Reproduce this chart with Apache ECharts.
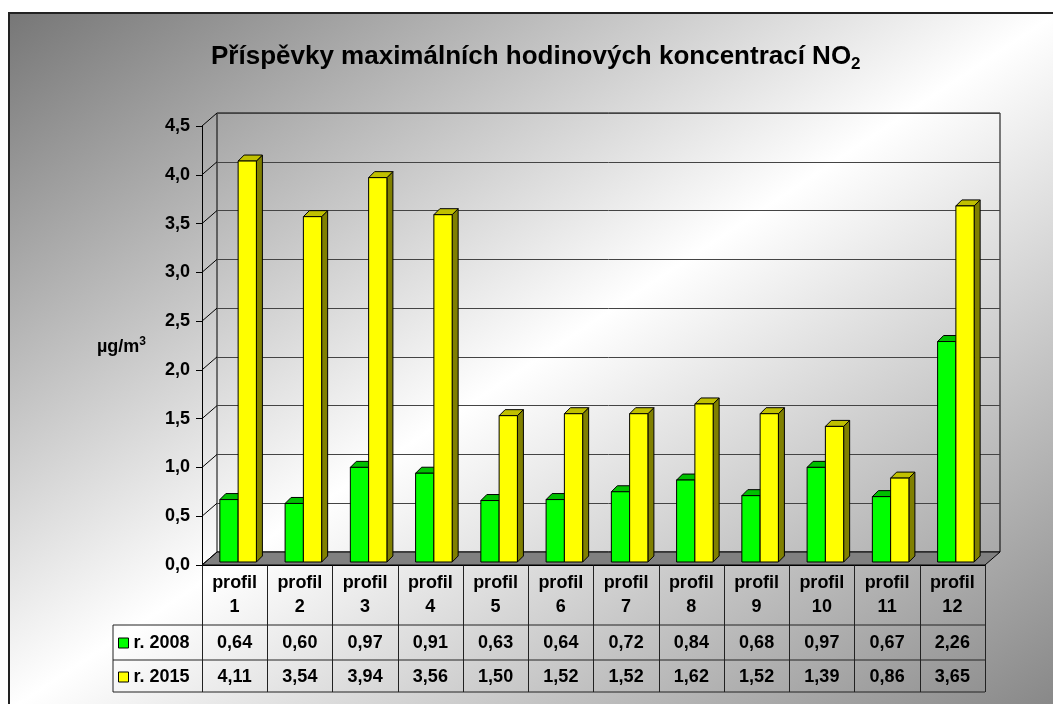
<!DOCTYPE html>
<html>
<head>
<meta charset="utf-8">
<script src="https://cdn.jsdelivr.net/npm/echarts@6/dist/echarts.min.js"></script>
<style>
  html, body { margin: 0; padding: 0; overflow: hidden; background: #fff; }
  #bg {
    position: absolute; left: 8px; top: 12px; width: 1050px; height: 700px;
    box-sizing: border-box; border: 2px solid #222;
    background: linear-gradient(to bottom right, #777 0%, #fff 50%, #878787 100%);
  }
  #container { position: absolute; left: 0; top: 0; width: 1053px; height: 704px; }
</style>
</head>
<body>
<div id="bg"></div>
<div id="container"></div>
<script>
var categories = ['profil 1', 'profil 2', 'profil 3', 'profil 4', 'profil 5', 'profil 6',
                  'profil 7', 'profil 8', 'profil 9', 'profil 10', 'profil 11', 'profil 12'];
var values2008 = [0.64, 0.60, 0.97, 0.91, 0.63, 0.64, 0.72, 0.84, 0.68, 0.97, 0.67, 2.26];
var values2015 = [4.11, 3.54, 3.94, 3.56, 1.50, 1.52, 1.52, 1.62, 1.52, 1.39, 0.86, 3.65];
var yTicks = [0, 0.5, 1, 1.5, 2, 2.5, 3, 3.5, 4, 4.5];
var seriesNames = ['r. 2008', 'r. 2015'];

var WALL = [15, -13];     // depth of floor / side wall
var SHIFT = [3.5, -3];    // plane of the bars
var BAR_D = 6;            // depth of the bars

function fmt(v, n) { return v.toFixed(n).replace('.', ','); }

var dom = document.getElementById('container');
var myChart = echarts.init(dom, null, { renderer: 'canvas' });

function barRenderer(slot, front, top, side) {
    return function (params, api) {
        var i = api.value(0), v = api.value(1);
        var base = api.coord([i, 0]);
        var tp = api.coord([i, v]);
        var w = api.size([1, 0])[0] * 0.28;
        var x0 = base[0] + SHIFT[0] + (slot === 0 ? -w : 0);
        var yb = base[1] + SHIFT[1];
        var yt = tp[1] + SHIFT[1];
        var d = BAR_D;
        var st = { stroke: '#000', lineWidth: 1 };
        return {
            type: 'group',
            children: [
                { type: 'polygon', shape: { points: [[x0 + w, yt], [x0 + w + d, yt - d], [x0 + w + d, yb - d], [x0 + w, yb]] },
                  style: echarts.util.extend({ fill: side }, st) },
                { type: 'polygon', shape: { points: [[x0, yt], [x0 + w, yt], [x0 + w + d, yt - d], [x0 + d, yt - d]] },
                  style: echarts.util.extend({ fill: top }, st) },
                { type: 'rect', shape: { x: x0, y: yt, width: w, height: yb - yt },
                  style: echarts.util.extend({ fill: front }, st) }
            ]
        };
    };
}

var FONT = 'Liberation Sans, Arial';
var labelFont = { color: '#000', fontWeight: 'bold', fontFamily: FONT, fontSize: 18 };

option = {
    animation: false,
    textStyle: { fontFamily: FONT },
    title: {
        text: '{t|Příspěvky maximálních hodinových koncentrací NO}{s|2}',
        left: 206,
        top: 36,
        textStyle: {
            rich: {
                t: { fontSize: 26, fontWeight: 'bold', color: '#000', lineHeight: 32, fontFamily: FONT },
                s: { fontSize: 17, fontWeight: 'bold', color: '#000', lineHeight: 17, verticalAlign: 'bottom', fontFamily: FONT }
            }
        }
    },
    legend: [
        { data: [seriesNames[0]], left: 118, top: 634, padding: 0, icon: 'rect', itemWidth: 10, itemHeight: 10, selectedMode: false,
          itemStyle: { borderColor: '#000', borderWidth: 1 }, textStyle: labelFont },
        { data: [seriesNames[1]], left: 118, top: 668, padding: 0, icon: 'rect', itemWidth: 10, itemHeight: 10, selectedMode: false,
          itemStyle: { borderColor: '#000', borderWidth: 1 }, textStyle: labelFont }
    ],
    grid: [
        // front plane (axis labels, floor edge, table)
        { left: 202, right: 68, top: 126, bottom: 139, show: false },
        // back wall
        { left: 217, right: 53, top: 113, bottom: 152, show: true, borderColor: '#000', borderWidth: 1,
          backgroundColor: 'transparent' }
    ],
    xAxis: [
        {
            gridIndex: 0, type: 'category', data: categories,
            axisLine: { lineStyle: { color: '#000', width: 1 } },
            axisTick: { show: true, interval: 0, length: 127, lineStyle: { color: '#222', width: 1 } },
            axisLabel: echarts.util.extend({
                interval: 0, margin: 6, lineHeight: 24,
                formatter: function (v) { return v.replace(' ', '\n'); }
            }, labelFont)
        },
        {
            gridIndex: 0, type: 'category', data: categories, position: 'bottom', offset: 78,
            axisLine: { show: false }, axisTick: { show: false },
            axisLabel: echarts.util.extend({
                interval: 0, margin: 0, verticalAlign: 'middle',
                formatter: function (v, idx) { return fmt(values2008[idx], 2); }
            }, labelFont)
        },
        {
            gridIndex: 0, type: 'category', data: categories, position: 'bottom', offset: 112,
            axisLine: { show: false }, axisTick: { show: false },
            axisLabel: echarts.util.extend({
                interval: 0, margin: 0, verticalAlign: 'middle',
                formatter: function (v, idx) { return fmt(values2015[idx], 2); }
            }, labelFont)
        },
        { gridIndex: 1, type: 'category', data: categories, show: false }
    ],
    yAxis: [
        {
            gridIndex: 0, type: 'value', min: 0, max: 4.5, interval: 0.5,
            axisLine: { show: true, lineStyle: { color: '#000', width: 1 } },
            axisTick: { show: true, length: 6, lineStyle: { color: '#000' } },
            splitLine: { show: false },
            axisLabel: echarts.util.extend({ margin: 12, formatter: function (v) { return fmt(v, 1); } }, labelFont)
        },
        {
            gridIndex: 1, type: 'value', min: 0, max: 4.5, interval: 0.5,
            axisLine: { show: false }, axisTick: { show: false }, axisLabel: { show: false },
            splitLine: { show: true, lineStyle: { color: '#444', width: 1 } }
        }
    ],
    graphic: [
        {
            type: 'text', left: 97, top: 336,
            style: {
                text: '{a|µg/m}{b|3}',
                rich: {
                    a: { fontSize: 18, fontWeight: 'bold', fill: '#000', lineHeight: 22, fontFamily: FONT },
                    b: { fontSize: 12, fontWeight: 'bold', fill: '#000', lineHeight: 12, verticalAlign: 'top', fontFamily: FONT }
                }
            }
        },
        // data table frame (left legend cells and row separators)
        { type: 'line', shape: { x1: 113, y1: 625, x2: 985, y2: 625 }, style: { stroke: '#222', lineWidth: 1 } },
        { type: 'line', shape: { x1: 113, y1: 660, x2: 985, y2: 660 }, style: { stroke: '#222', lineWidth: 1 } },
        { type: 'line', shape: { x1: 113, y1: 692, x2: 985, y2: 692 }, style: { stroke: '#222', lineWidth: 1 } },
        { type: 'line', shape: { x1: 113, y1: 625, x2: 113, y2: 692 }, style: { stroke: '#222', lineWidth: 1 } }
    ],
    series: [
        {
            // floor
            type: 'custom', xAxisIndex: 0, yAxisIndex: 0, silent: true, z: 1,
            data: [[0, 0]],
            renderItem: function (params, api) {
                var cs = params.coordSys;
                var y = api.coord([0, 0])[1];
                return {
                    type: 'polygon',
                    shape: { points: [[cs.x, y], [cs.x + cs.width, y], [cs.x + cs.width + WALL[0], y + WALL[1]], [cs.x + WALL[0], y + WALL[1]]] },
                    style: { fill: '#808080', stroke: '#000', lineWidth: 1 }
                };
            }
        },
        {
            // side wall lines
            type: 'custom', xAxisIndex: 0, yAxisIndex: 0, silent: true, z: 1,
            data: yTicks.map(function (t) { return [0, t]; }),
            renderItem: function (params, api) {
                var cs = params.coordSys;
                var y = api.coord([0, api.value(1)])[1];
                return {
                    type: 'line',
                    shape: { x1: cs.x, y1: y, x2: cs.x + WALL[0], y2: y + WALL[1] },
                    style: { stroke: '#000', lineWidth: 1 }
                };
            }
        },
        {
            name: seriesNames[0], type: 'custom', xAxisIndex: 0, yAxisIndex: 0, z: 3,
            itemStyle: { color: '#00ff00' },
            data: values2008.map(function (v, i) { return [i, v]; }),
            encode: { x: 0, y: 1 },
            renderItem: barRenderer(0, '#00ff00', '#00c000', '#008000')
        },
        {
            name: seriesNames[1], type: 'custom', xAxisIndex: 0, yAxisIndex: 0, z: 3,
            itemStyle: { color: '#ffff00' },
            data: values2015.map(function (v, i) { return [i, v]; }),
            encode: { x: 0, y: 1 },
            renderItem: barRenderer(1, '#ffff00', '#c0c000', '#808000')
        }
    ]
};

if (option && typeof option === 'object') {
    myChart.setOption(option, true);
}
</script>
</body>
</html>
